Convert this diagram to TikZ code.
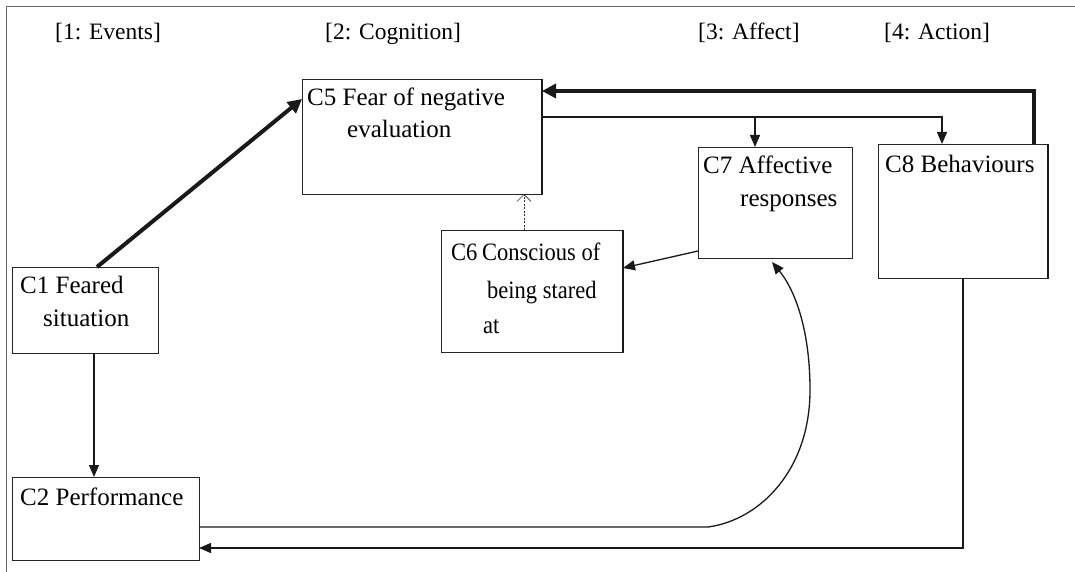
\documentclass[tikz,border=0pt]{standalone}
\usepackage{fontspec}
\setmainfont{Liberation Serif}
\usetikzlibrary{arrows.meta}
\tikzset{
  box/.style={draw=black!85, line width=0.9pt, rectangle, anchor=north west, inner sep=0pt, outer sep=0pt},
  txt/.style={anchor=base west, inner sep=0pt, font=\fontsize{25}{30}\selectfont, text=black},
  hdr/.style={anchor=base west, inner sep=0pt, font=\fontsize{23.5}{28}\selectfont, text=black},
  conn/.style={draw=black!90, line width=1.3pt, -{Triangle[length=12pt,width=10pt]}},
  boldconn/.style={draw=black!90, line width=4pt, -{Triangle[length=14pt,width=14pt]}},
  dotconn/.style={draw=black!80, line width=0.6pt, dash pattern=on 2pt off 1.5pt, -{Straight Barb[length=7pt,width=14pt,line width=0.6pt]}},
  edgeline/.style={draw=black!90, line width=2pt},
  frame/.style={draw=black!60, line width=1pt}
}
\begin{document}
\begin{tikzpicture}[x=1pt,y=-1pt]
\useasboundingbox[fill=white] (0,0) rectangle (1075,572);
% frame
\draw[frame] (1075,7) -- (6,7) -- (6,572);
% headers
\node[hdr] (h1) at (55,40) {[1: Events]};
\node[hdr] (h2) at (325,40) {[2: Cognition]};
\node[hdr] (h3) at (698,40) {[3: Affect]};
\node[hdr] (h4) at (884,40) {[4: Action]};
% boxes
\node[box, minimum width=240pt, minimum height=115pt] (c5) at (302,79) {};
\node[box, minimum width=146pt, minimum height=86pt] (c1) at (12,267) {};
\node[box, minimum width=187pt, minimum height=83pt] (c2) at (12,477) {};
\node[box, minimum width=182pt, minimum height=122pt] (c6) at (441,230) {};
\node[box, minimum width=154pt, minimum height=111pt] (c7) at (698,147) {};
\node[box, minimum width=170pt, minimum height=134pt] (c8) at (878,144) {};
% heavier right edges
\draw[edgeline] (c5.north east) -- (c5.south east);
\draw[edgeline] (c6.north east) -- (c6.south east);
\draw[edgeline] (c8.north east) -- (c8.south east);
% texts
\node[txt] (c5a) at (307,106) {C5 Fear of negative};
\node[txt] (c5b) at (347,138) {evaluation};
\node[txt] (c1a) at (20,293) {C1 Feared};
\node[txt] (c1b) at (43,326) {situation};
\node[txt] (c2a) at (20,505) {C2 Performance};
\node[txt] (c6a) at (451,260) {\scalebox{0.9}[1]{C6\hspace{-1pt} Conscious of}};
\node[txt] (c6b) at (487,298) {\scalebox{0.9}[1]{being stared}};
\node[txt] (c6c) at (483,333) {\scalebox{0.9}[1]{at}};
\node[txt] (c7a) at (703,174) {C7 Affective};
\node[txt] (c7b) at (740,206) {responses};
\node[txt] (c8a) at (885,172) {C8 Behaviours};
% connectors
\draw[boldconn] (97,0 |- c1.north) -- (c5.west |- 0,99);
\draw[boldconn] (1034,0 |- c8.north) |- (c5.east |- 0,91);
\draw[conn] (c5.east |- 0,117) -| (942,0 |- c8.north);
\draw[conn] (755,117) -- (755,0 |- c7.north);
\draw[dotconn] (524,0 |- c6.north) -- (524,0 |- c5.south);
\draw[conn] (c7.west |- 0,251) -- (c6.east |- 0,268);
\draw[conn] (94,0 |- c1.south) -- (94,0 |- c2.north);
\draw[conn] (963,0 |- c8.south) |- (c2.east |- 0,548);
\coordinate (bend) at (708,527);
\draw[conn] (c2.east |- 0,527) -- (bend) .. controls (760,520) and (810,470) .. (810,390) .. controls (810,330) and (795,290) .. (772,262);
\end{tikzpicture}
\end{document}
